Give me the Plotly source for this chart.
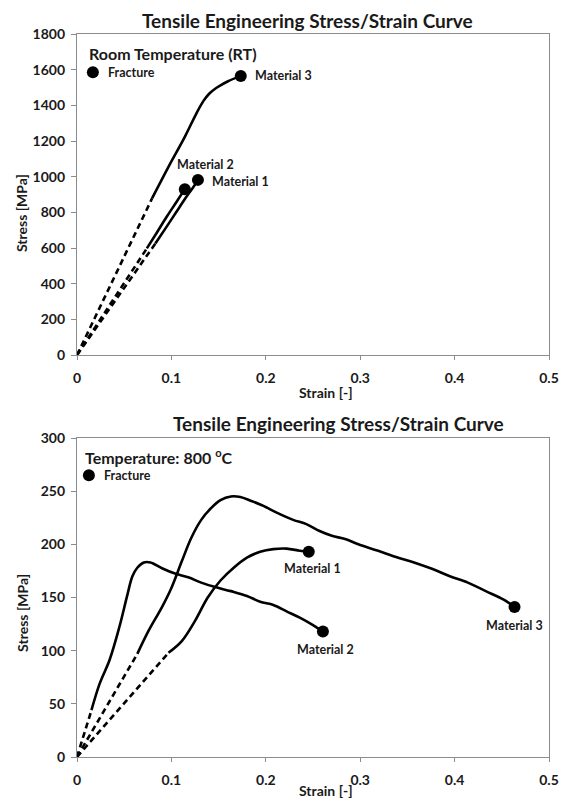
import plotly.graph_objects as go

# ---------------- data: room temperature ----------------
rt_m1_dash_x = [0.0, 0.083]
rt_m1_dash_y = [0, 625]
rt_m1_x = [0.083, 0.095, 0.105, 0.115, 0.1246, 0.1281]
rt_m1_y = [625, 720, 800, 880, 952, 982]

rt_m2_dash_x = [0.0, 0.074]
rt_m2_dash_y = [0, 598]
rt_m2_x = [0.074, 0.085, 0.095, 0.105, 0.1142]
rt_m2_y = [598, 690, 775, 855, 930]

rt_m3_dash_x = [0.0, 0.0795]
rt_m3_dash_y = [0, 878]
rt_m3_x = [0.0795, 0.0969, 0.1142, 0.1264, 0.134, 0.140, 0.146, 0.152, 0.160, 0.1735]
rt_m3_y = [878, 1055, 1223, 1354, 1425, 1465, 1492, 1512, 1535, 1565]

rt_frac_x = [0.1281, 0.1142, 0.1735]
rt_frac_y = [982, 930, 1565]
rt_labels = ["Material 1", "Material 2", "Material 3"]
rt_label_x = [0.1413, 0.1358, 0.1865]
rt_label_y = [975, 1068, 1565]

rt_legend_x = [0.0168]
rt_legend_y = [1586]

# ---------------- data: 800 C ----------------
ht_m1_dash_x = [0.0, 0.0969]
ht_m1_dash_y = [0, 98]
ht_m1_x = [0.0969, 0.111, 0.125, 0.1385, 0.152, 0.166, 0.180, 0.194, 0.208, 0.222, 0.236, 0.2455]
ht_m1_y = [98, 109, 128, 150, 166, 178, 187.5, 193, 195.5, 196, 194, 193]

ht_m2_dash_x = [0.0, 0.0153]
ht_m2_dash_y = [0, 44]
ht_m2_x = [0.0153, 0.024, 0.0344, 0.0448, 0.0535, 0.0587, 0.0639, 0.0708, 0.0778, 0.09, 0.1038,
           0.1177, 0.1316, 0.1455, 0.163, 0.180, 0.194, 0.208, 0.222, 0.236, 0.25, 0.2605]
ht_m2_y = [44, 69, 91, 122, 153, 170, 178, 183, 183, 177.5, 172.5,
           169, 164, 160, 156, 151.5, 146, 143, 137, 131, 124, 118]

ht_m3_dash_x = [0.0, 0.0639]
ht_m3_dash_y = [0, 97]
ht_m3_x = [0.0639, 0.076, 0.09, 0.100, 0.111, 0.121, 0.1316, 0.142, 0.152, 0.163, 0.173, 0.184,
           0.198, 0.211, 0.229, 0.243, 0.257, 0.270, 0.284, 0.298, 0.319, 0.338, 0.357, 0.376,
           0.395, 0.414, 0.433, 0.452, 0.4635]
ht_m3_y = [97, 119, 141, 159, 184, 206, 223, 234, 241.5, 245, 244.5, 241,
           236, 230, 223, 219, 212.5, 208, 205, 200, 194, 188, 183, 177,
           170, 164, 156, 148, 141]

ht_frac_x = [0.2455, 0.2605, 0.4635]
ht_frac_y = [193, 118, 141]
ht_labels = ["Material 1", "Material 2", "Material 3"]
ht_label_x = [0.2497, 0.263, 0.463]
ht_label_y = [177, 101, 124]

ht_legend_x = [0.0126]
ht_legend_y = [265]

x_ticks = [0, 0.1, 0.2, 0.3, 0.4, 0.5]
x_tick_text = ["0", "0.1", "0.2", "0.3", "0.4", "0.5"]
rt_y_ticks = [0, 200, 400, 600, 800, 1000, 1200, 1400, 1600, 1800]
ht_y_ticks = [0, 50, 100, 150, 200, 250, 300]

TITLE = "Tensile Engineering Stress/Strain Curve"

FONT = "Lato"
TXT = "#1a1a1a"
AX = "#8c8c8c"
LW = 2.6

fig = go.Figure()


def add_curve(xs, ys, xa, ya, dash, shape="linear"):
    fig.add_trace(go.Scatter(x=xs, y=ys, mode="lines", xaxis=xa, yaxis=ya,
                             line=dict(color="black", width=LW, dash=dash, shape=shape),
                             showlegend=False, hoverinfo="skip"))


for dx, dy, sx, sy in [(rt_m1_dash_x, rt_m1_dash_y, rt_m1_x, rt_m1_y),
                       (rt_m2_dash_x, rt_m2_dash_y, rt_m2_x, rt_m2_y),
                       (rt_m3_dash_x, rt_m3_dash_y, rt_m3_x, rt_m3_y)]:
    add_curve(dx, dy, "x", "y", "6px,4px")
    add_curve(sx, sy, "x", "y", "solid", "spline")

for dx, dy, sx, sy in [(ht_m1_dash_x, ht_m1_dash_y, ht_m1_x, ht_m1_y),
                       (ht_m2_dash_x, ht_m2_dash_y, ht_m2_x, ht_m2_y),
                       (ht_m3_dash_x, ht_m3_dash_y, ht_m3_x, ht_m3_y)]:
    add_curve(dx, dy, "x2", "y2", "6px,4px")
    add_curve(sx, sy, "x2", "y2", "solid", "spline")

MK = dict(color="black", size=12, symbol="circle")
fig.add_trace(go.Scatter(x=rt_frac_x, y=rt_frac_y, mode="markers", xaxis="x", yaxis="y",
                         marker=MK, showlegend=False))
fig.add_trace(go.Scatter(x=rt_legend_x, y=rt_legend_y, mode="markers", xaxis="x", yaxis="y",
                         marker=MK, showlegend=False))
fig.add_trace(go.Scatter(x=ht_frac_x, y=ht_frac_y, mode="markers", xaxis="x2", yaxis="y2",
                         marker=MK, showlegend=False))
fig.add_trace(go.Scatter(x=ht_legend_x, y=ht_legend_y, mode="markers", xaxis="x2", yaxis="y2",
                         marker=MK, showlegend=False))

ann = []
lab_font = dict(family=FONT, size=12.5, color=TXT, weight="bold")
big_font = dict(family=FONT, size=16, color=TXT, weight="bold")
# room temperature labels
ann.append(dict(x=rt_label_x[0], y=rt_label_y[0], xref="x", yref="y", text=rt_labels[0],
                xanchor="left", yanchor="middle", showarrow=False, font=lab_font))
ann.append(dict(x=rt_label_x[1], y=rt_label_y[1], xref="x", yref="y", text=rt_labels[1],
                xanchor="center", yanchor="middle", showarrow=False, font=lab_font))
ann.append(dict(x=rt_label_x[2], y=rt_label_y[2], xref="x", yref="y", text=rt_labels[2],
                xanchor="left", yanchor="middle", showarrow=False, font=lab_font))
ann.append(dict(x=0.0302, y=rt_legend_y[0], xref="x", yref="y", text="Fracture",
                xanchor="left", yanchor="middle", showarrow=False, font=lab_font))
ann.append(dict(x=0.0107, y=1692, xref="x", yref="y", text="Room Temperature (RT)",
                xanchor="left", yanchor="middle", showarrow=False, font=big_font))
# 800 C labels
for i in range(3):
    ann.append(dict(x=ht_label_x[i], y=ht_label_y[i], xref="x2", yref="y2", text=ht_labels[i],
                    xanchor="center", yanchor="middle", showarrow=False, font=lab_font))
ann.append(dict(x=0.027, y=ht_legend_y[0], xref="x2", yref="y2", text="Fracture",
                xanchor="left", yanchor="middle", showarrow=False, font=lab_font))
ann.append(dict(x=0.0061, y=283, xref="x2", yref="y2", text="Temperature: 800 <sup>o</sup>C",
                xanchor="left", yanchor="middle", showarrow=False, font=big_font))

title_font = dict(family=FONT, size=19, color=TXT, weight="bold")
ann.append(dict(x=0.4875, y=1.019, xref="paper", yref="paper", text=TITLE, showarrow=False,
                xanchor="center", yanchor="middle", font=title_font))
ann.append(dict(x=0.5535, y=0.4606, xref="paper", yref="paper", text=TITLE, showarrow=False,
                xanchor="center", yanchor="middle", font=title_font))

axt_font = dict(family=FONT, size=14, color=TXT, weight="bold")
ann.append(dict(x=-0.117, y=0.752, xref="paper", yref="paper", text="Stress [MPa]", textangle=-90,
                showarrow=False, xanchor="center", yanchor="middle", font=axt_font))
ann.append(dict(x=-0.117, y=0.199, xref="paper", yref="paper", text="Stress [MPa]", textangle=-90,
                showarrow=False, xanchor="center", yanchor="middle", font=axt_font))
ann.append(dict(x=0.527, y=0.504, xref="paper", yref="paper", text="Strain [-]",
                showarrow=False, xanchor="center", yanchor="middle", font=axt_font))
ann.append(dict(x=0.527, y=-0.0615, xref="paper", yref="paper", text="Strain [-]",
                showarrow=False, xanchor="center", yanchor="bottom", font=axt_font))

tick_font = dict(family=FONT, size=14, color=TXT, weight="bold")
xax = dict(range=[0, 0.5], tickvals=x_ticks, ticktext=x_tick_text, showgrid=False, zeroline=False,
           showline=True, linecolor=AX, linewidth=1.2, mirror=True, ticks="outside", ticklen=4,
           tickcolor=AX, tickfont=tick_font, ticklabelstandoff=6)
yax = dict(showgrid=False, zeroline=False, showline=True, linecolor=AX, linewidth=1.2, mirror=True,
           ticks="outside", ticklen=5, tickcolor=AX, tickfont=tick_font, ticklabelstandoff=3)

fig.update_layout(
    width=571, height=803,
    margin=dict(l=77, r=14, t=34, b=46),
    paper_bgcolor="white", plot_bgcolor="white",
    xaxis=dict(xax, domain=[0, 1], anchor="y"),
    yaxis=dict(yax, domain=[0.556, 1], range=[0, 1800], tickvals=rt_y_ticks, anchor="x"),
    xaxis2=dict(xax, domain=[0, 1], anchor="y2"),
    yaxis2=dict(yax, domain=[0, 0.4412], range=[0, 300], tickvals=ht_y_ticks, anchor="x2"),
    annotations=ann,
    showlegend=False,
)

fig.write_html("out.html", config={"displayModeBar": False},
               post_script="document.body.style.margin='0';document.body.style.overflow='hidden';")
